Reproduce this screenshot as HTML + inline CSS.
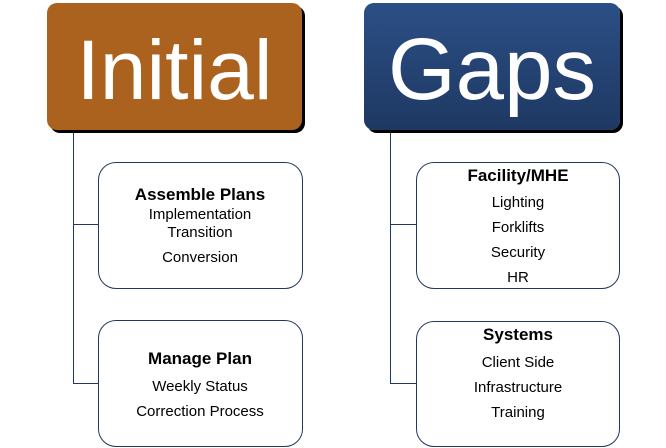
<!DOCTYPE html>
<html><head><style>
body{margin:0;width:666px;height:448px;background:#fff;position:relative;overflow:hidden;font-family:"Liberation Sans",sans-serif}
.h{position:absolute;border-radius:10px;box-shadow:3px 3px 0 #000;color:#fff;text-align:center;font-size:87px;line-height:134px}
.b{position:absolute;border:1px solid #1f3864;border-radius:18px;background:#fff;box-sizing:border-box}
.l{position:absolute;background:#1f3864}
.t{position:absolute;width:204px;text-align:center;font-size:15px;line-height:18px;color:#000;transform:translateY(-50%);margin-top:2px}
.t.bd{font-weight:bold;font-size:17px}
</style></head><body>
<div class="l" style="left:73px;top:130px;width:1px;height:254px"></div>
<div class="l" style="left:73px;top:224px;width:25px;height:1px"></div>
<div class="l" style="left:73px;top:383px;width:25px;height:1px"></div>
<div class="l" style="left:390px;top:130px;width:1px;height:254px"></div>
<div class="l" style="left:390px;top:224px;width:26px;height:1px"></div>
<div class="l" style="left:390px;top:383px;width:26px;height:1px"></div>
<div class="h" style="left:47px;top:3px;width:255px;height:127px;background:#ab621e;font-size:84px">Initial</div>
<div class="h" style="left:364px;top:3px;width:256px;height:127px;background:linear-gradient(#2b4f86,#1e3862)">Gaps</div>
<div class="b" style="left:98px;top:162px;width:205px;height:127px"></div>
<div class="b" style="left:98px;top:320px;width:205px;height:127px"></div>
<div class="b" style="left:416px;top:162px;width:204px;height:127px"></div>
<div class="b" style="left:416px;top:321px;width:204px;height:126px"></div>
<div class="t bd" style="left:98px;top:193px">Assemble Plans</div>
<div class="t" style="left:98px;top:213px">Implementation</div>
<div class="t" style="left:98px;top:231px">Transition</div>
<div class="t" style="left:98px;top:256px">Conversion</div>
<div class="t bd" style="left:98px;top:357px">Manage Plan</div>
<div class="t" style="left:98px;top:385px">Weekly Status</div>
<div class="t" style="left:98px;top:410px">Correction Process</div>
<div class="t bd" style="left:416px;top:174px">Facility/MHE</div>
<div class="t" style="left:416px;top:201px">Lighting</div>
<div class="t" style="left:416px;top:226px">Forklifts</div>
<div class="t" style="left:416px;top:251px">Security</div>
<div class="t" style="left:416px;top:276px">HR</div>
<div class="t bd" style="left:416px;top:333px">Systems</div>
<div class="t" style="left:416px;top:361px">Client Side</div>
<div class="t" style="left:416px;top:386px">Infrastructure</div>
<div class="t" style="left:416px;top:411px">Training</div>
</body></html>
